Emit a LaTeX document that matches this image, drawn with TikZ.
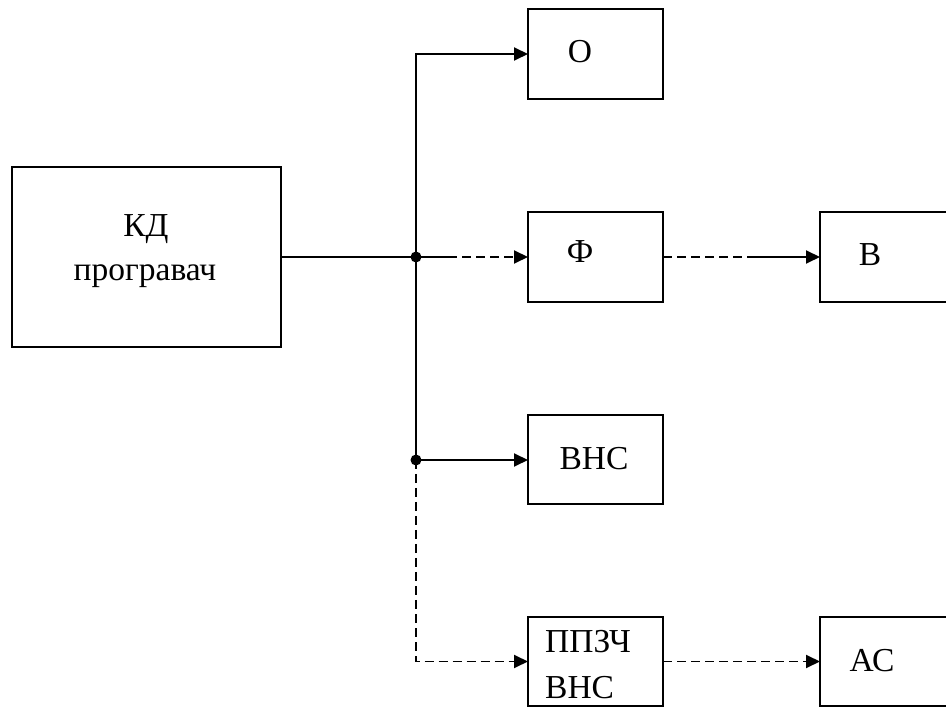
\documentclass[tikz,border=0pt]{standalone}
\usepackage{fontspec}
\setmainfont{Liberation Serif}
\usetikzlibrary{arrows.meta}
\begin{document}
\begin{tikzpicture}[x=1pt,y=-1pt,
  every node/.style={font=\fontsize{33.5}{40}\selectfont},
  blk/.style={draw,line width=1.9pt,inner sep=0pt,outer sep=0pt,rectangle},
  conn/.style={line width=1.9pt},
  dsh/.style={conn,dash pattern=on 9pt off 5pt},
  arr/.style={-{Triangle[length=14pt,width=13pt]}},
  lbl/.style={anchor=base,inner sep=0pt}]
\useasboundingbox (0,0) rectangle (946,708);
\clip (0,0) rectangle (946,708);
% boxes
\node[blk,minimum width=269pt,minimum height=180pt] (kd) at (146.5,257) {};
\node[blk,minimum width=135pt,minimum height=90pt] (o) at (595.5,54) {};
\node[blk,minimum width=135pt,minimum height=90pt] (f) at (595.5,257) {};
\node[blk,minimum width=180pt,minimum height=90pt] (v) at (910,257) {};
\node[blk,minimum width=135pt,minimum height=89pt] (vns) at (595.5,459.5) {};
\node[blk,minimum width=135pt,minimum height=89pt] (ppz) at (595.5,661.5) {};
\node[blk,minimum width=180pt,minimum height=89pt] (ac) at (910,661.5) {};
% labels
\node[lbl] (t1) at (146,237) {КД};
\node[lbl] (t2) at (145,281) {програвач};
\node[lbl] (to) at (580,63) {О};
\node[lbl] (tf) at (580,263) {Ф};
\node[lbl] (tv) at (870,266) {В};
\node[lbl] (tvns) at (594,470) {ВНС};
\node[lbl,anchor=base west] (tp1) at (545,652) {ППЗЧ};
\node[lbl,anchor=base west] (tp2) at (545,698) {ВНС};
\node[lbl] (tac) at (872,671) {АС};
% junctions
\coordinate (j1) at (416,257);
\coordinate (j2) at (416,460);
\coordinate (fs) at (448,257);
\coordinate (vs) at (752,257);
% connectors
\draw[conn] (kd.east) -- (j1);
\draw[conn,arr] (j1) |- (o.west);
\draw[conn] (j1) -- (j2);
\draw[conn] (j1) -- (fs);
\draw[dsh,arr] (fs) -- (f.west);
\draw[dsh] (f.east) -- (vs);
\draw[conn,arr] (vs) -- (v.west);
\draw[conn,arr] (j2) -- (vns.west |- j2);
\draw[dsh,arr] (j2) |- (ppz.west);
\draw[dsh,arr] (ppz.east) -- (ac.west);
\fill (j1) circle (5.5);
\fill (j2) circle (5.5);
\end{tikzpicture}
\end{document}
